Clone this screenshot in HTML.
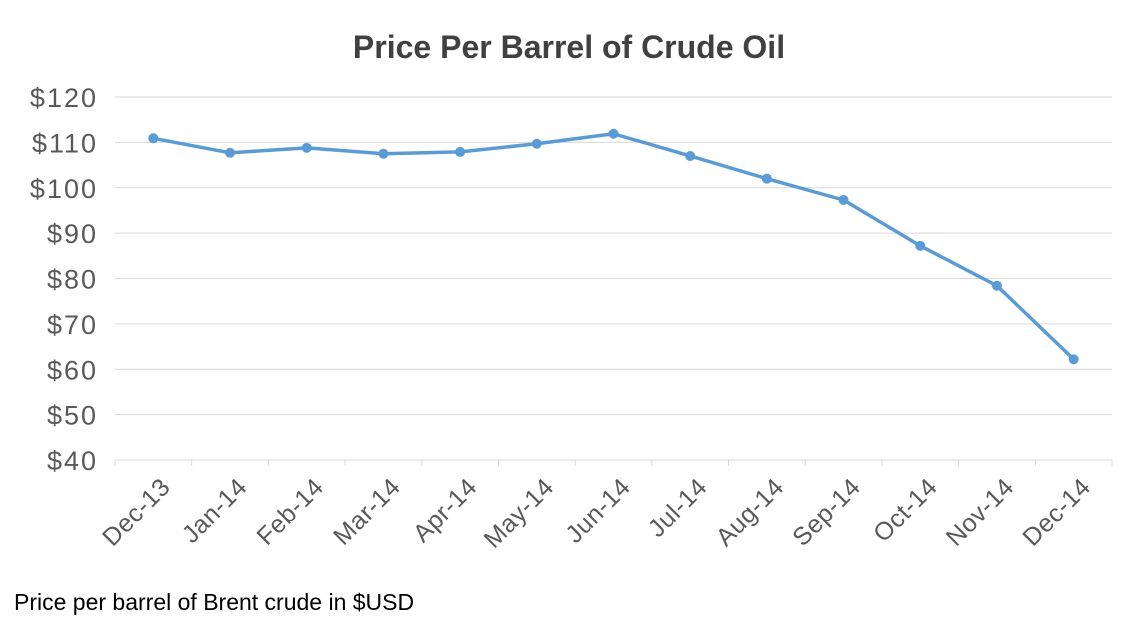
<!DOCTYPE html>
<html><head><meta charset="utf-8"><style>
body{margin:0;background:#fff;width:1139px;height:636px;overflow:hidden;font-family:"Liberation Sans",Carlito,sans-serif}
</style></head><body>
<svg width="1139" height="636">
<text x="569" y="58" text-anchor="middle" font-size="32" font-weight="bold" fill="#404040">Price Per Barrel of Crude Oil</text>
<g id="grid"></g><g id="ax"></g><g id="series"></g>
<text x="14" y="610" font-size="23" fill="#000">Price per barrel of Brent crude in $USD</text>
</svg>
<script>
const categories=["Dec-13","Jan-14","Feb-14","Mar-14","Apr-14","May-14","Jun-14","Jul-14","Aug-14","Sep-14","Oct-14","Nov-14","Dec-14"];
const prices=[110.9,107.7,108.8,107.5,107.9,109.7,111.9,107.0,102.0,97.3,87.2,78.4,62.2];
const yTicks=[40,50,60,70,80,90,100,110,120];
const NS="http://www.w3.org/2000/svg";
const L=115,R=1112,T=97,B=460,ymin=40,ymax=120;
const bw=(R-L)/categories.length;
const xs=i=>L+bw*(i+0.5);
const ys=v=>B-(v-ymin)/(ymax-ymin)*(B-T);
function mk(t,a,p){const e=document.createElementNS(NS,t);for(const k in a)e.setAttribute(k,a[k]);p.appendChild(e);return e;}
const g=document.getElementById('grid'),ax=document.getElementById('ax'),s=document.getElementById('series');
yTicks.forEach(v=>{
 const y=ys(v);
 if(v>ymin){const l=mk('line',{x1:L,x2:R,y1:y,y2:y,stroke:'#d9d9d9','stroke-width':1},g);
 
 }
 const t=mk('text',{x:98,y:y+10,'text-anchor':'end','font-size':27,'letter-spacing':2,fill:'#595959'},ax);t.textContent='$'+v;
 
 
});
const al=mk('line',{x1:L,x2:R,y1:B,y2:B,stroke:'#d9d9d9','stroke-width':1},ax);


for(let i=0;i<=categories.length;i++){const x=L+bw*i;mk('line',{x1:x,x2:x,y1:B,y2:B+6,stroke:'#d9d9d9'},ax);}
categories.forEach((c,i)=>{
 const x=xs(i)+6,y=B+16;
 const t=mk('text',{x:x,y:y,'text-anchor':'end','font-size':25,'letter-spacing':0.5,fill:'#595959',transform:`rotate(-45 ${x} ${y})`,dy:'0.7em'},ax);t.textContent=c;
 
 
});
const pl=mk('polyline',{points:prices.map((v,i)=>xs(i)+','+ys(v)).join(' '),fill:'none',stroke:'#5b9bd5','stroke-width':3.5,'stroke-linejoin':'round'},s);


prices.forEach((v,i)=>{const c=mk('circle',{cx:xs(i),cy:ys(v),r:5,fill:'#5b9bd5'},s);
 
 });
</script>
</body></html>
